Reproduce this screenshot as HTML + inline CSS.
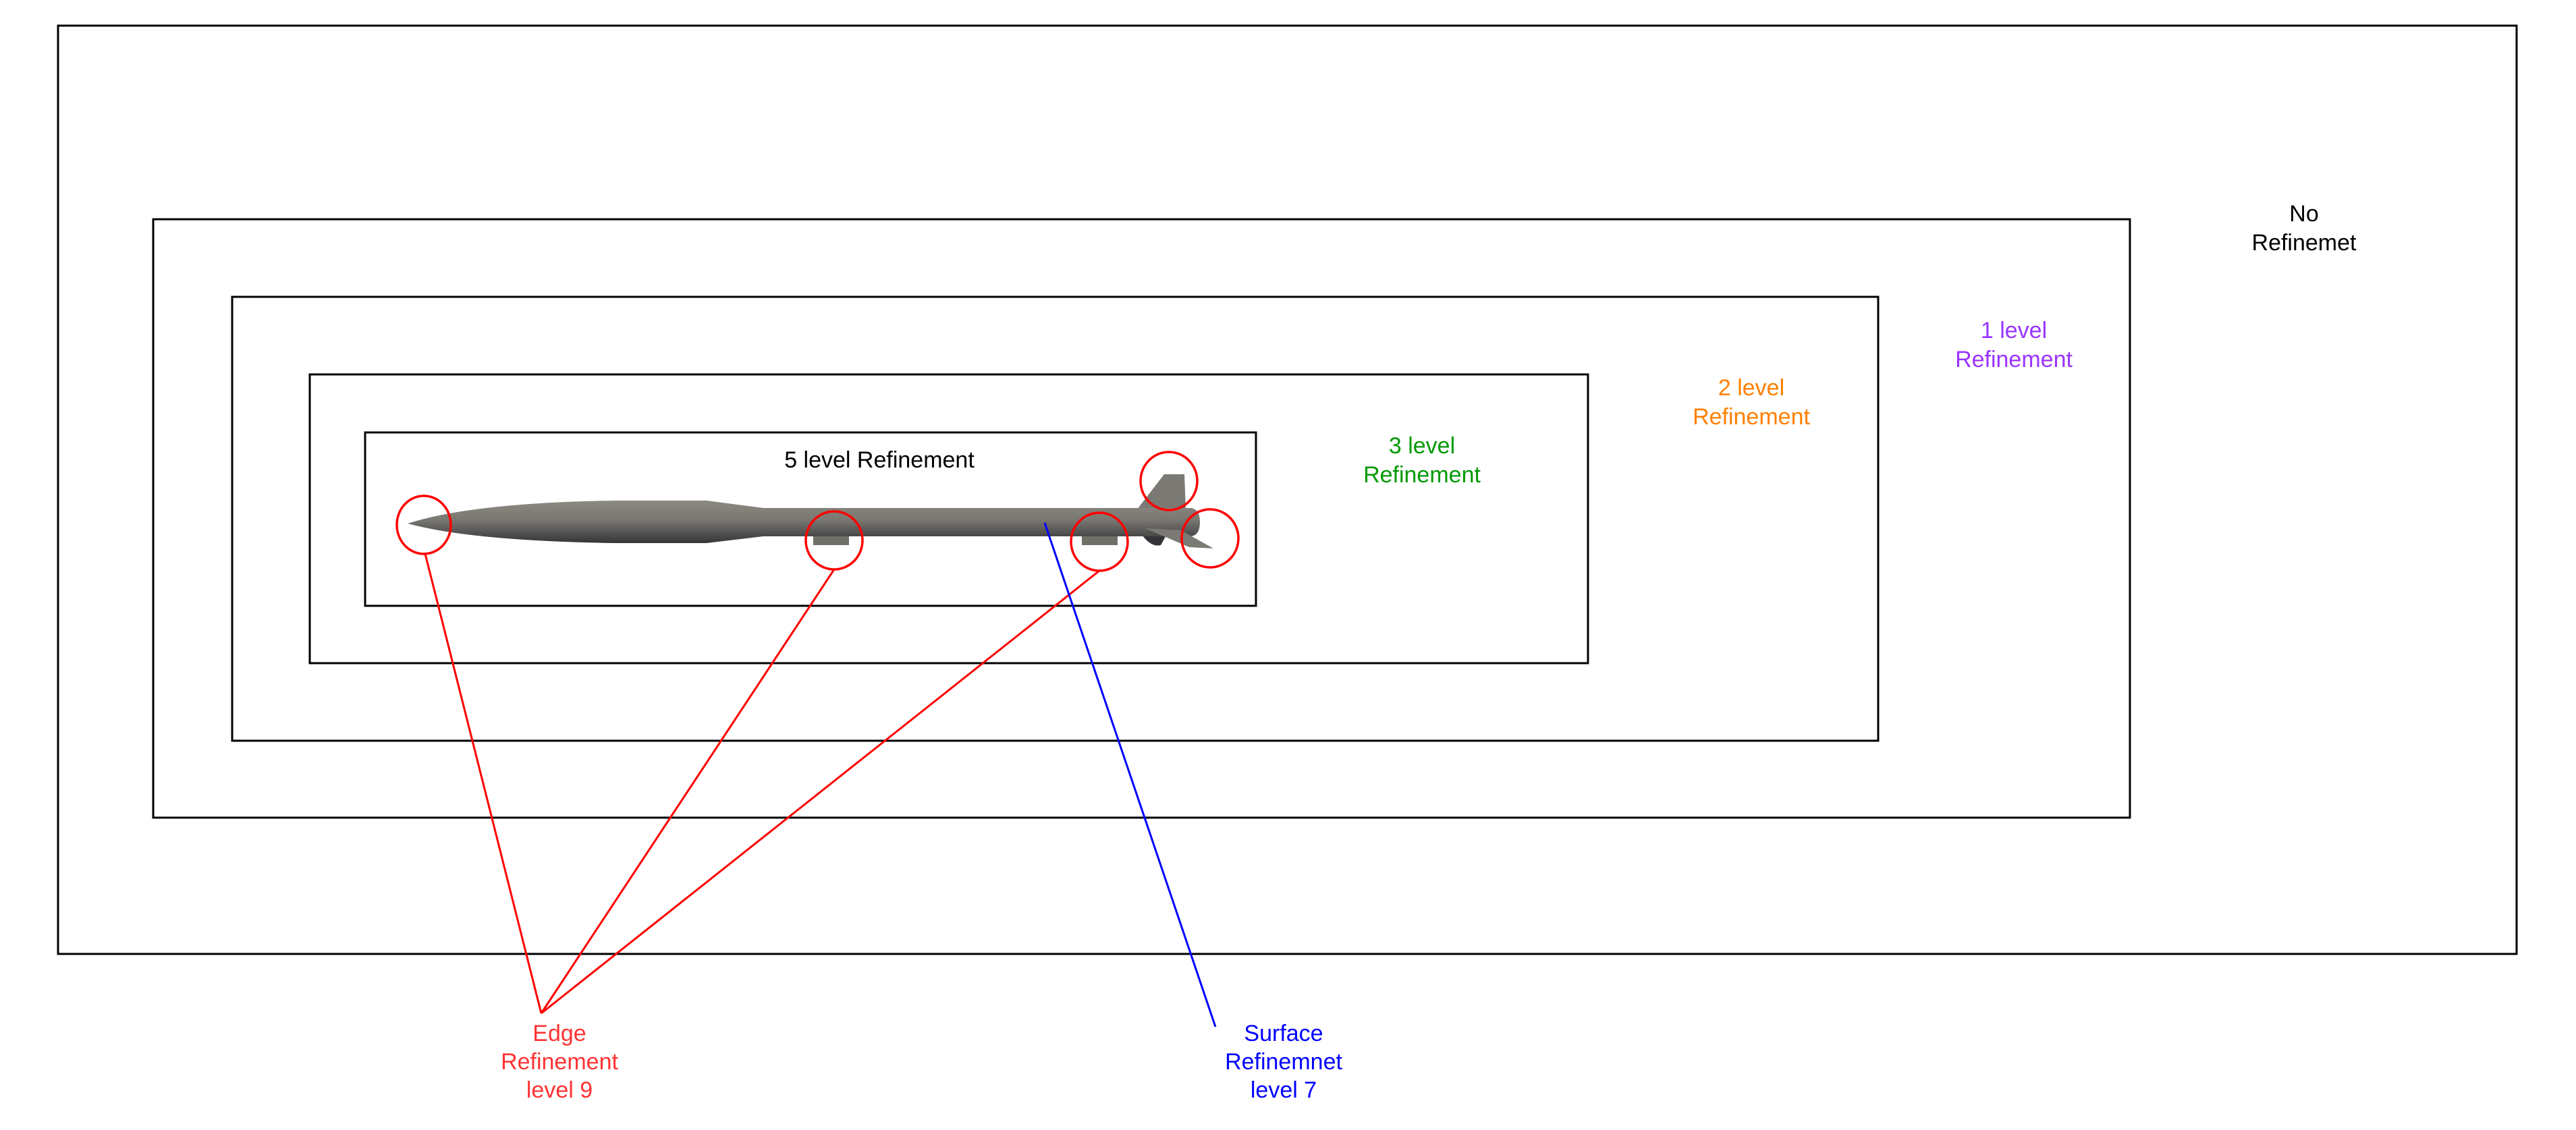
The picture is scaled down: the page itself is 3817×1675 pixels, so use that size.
<!DOCTYPE html>
<html><head><meta charset="utf-8"><style>
html,body{margin:0;padding:0;background:#fff;}
svg{display:block;}
text{font-family:"Liberation Sans",Arial,sans-serif;font-size:34px;text-anchor:middle;}
</style></head><body>
<svg width="3817" height="1675" viewBox="0 0 3817 1675" xmlns="http://www.w3.org/2000/svg">
<defs>
<linearGradient id="g" x1="0" y1="0" x2="0" y2="1">
<stop offset="0" stop-color="#8c8980"/>
<stop offset="0.45" stop-color="#7a7872"/>
<stop offset="1" stop-color="#343538"/>
</linearGradient>
<linearGradient id="g2" x1="0" y1="0" x2="0" y2="1">
<stop offset="0" stop-color="#8a877f"/>
<stop offset="0.5" stop-color="#74726c"/>
<stop offset="1" stop-color="#37383b"/>
</linearGradient>
</defs>
<g fill="none" stroke="#000" stroke-width="3">
<rect x="86" y="38" width="3643" height="1376"/>
<rect x="227" y="325" width="2929" height="887"/>
<rect x="344" y="440" width="2439" height="658"/>
<rect x="459" y="555" width="1894" height="428"/>
<rect x="541" y="641" width="1320" height="257"/>
</g>
<text x="3414" y="328" fill="#000">No</text>
<text x="3414" y="371" fill="#000">Refinemet</text>
<text x="2984" y="501" fill="#9933ff">1 level</text>
<text x="2984" y="544" fill="#9933ff">Refinement</text>
<text x="2595" y="586" fill="#ff8000">2 level</text>
<text x="2595" y="629" fill="#ff8000">Refinement</text>
<text x="2107" y="672" fill="#009900">3 level</text>
<text x="2107" y="715" fill="#009900">Refinement</text>
<text x="1303" y="693" fill="#000">5 level Refinement</text>
<!-- rocket -->
<path d="M1725 703 L1755 703 L1757 755 L1685 755 Z" fill="#7b7973"/>
<path d="M1690 790 Q1705 812 1720 808 L1730 790 Z" fill="#333437"/>
<rect x="1205" y="792" width="53" height="16" fill="#707068"/>
<rect x="1603" y="792" width="53" height="16" fill="#707068"/>
<path d="M604 776 Q700 745 913 742 L1047 742 L1131 753 L1765 753 Q1778 755 1778 774 Q1778 793 1765 795 L1131 795 L1047 805 L913 805 Q700 802 604 776 Z" fill="url(#g)"/>
<path d="M1697 783 L1750 786 L1798 813 L1762 811 Z" fill="#7c7a74"/>
<!-- circles -->
<g fill="none" stroke="#ff0000" stroke-width="3.5">
<ellipse cx="628" cy="778" rx="40" ry="43"/>
<ellipse cx="1236" cy="801" rx="42" ry="43"/>
<ellipse cx="1732" cy="713" rx="42" ry="43"/>
<ellipse cx="1629" cy="803" rx="42" ry="43"/>
<ellipse cx="1793" cy="798" rx="42" ry="43"/>
</g>
<g stroke="#ff0000" stroke-width="3" fill="none">
<line x1="630" y1="821" x2="802" y2="1502"/>
<line x1="1236" y1="844" x2="802" y2="1502"/>
<line x1="1629" y1="846" x2="802" y2="1502"/>
</g>
<line x1="1548" y1="775" x2="1801" y2="1522" stroke="#0000ff" stroke-width="3"/>
<text x="829" y="1543" fill="#ff3333">Edge</text>
<text x="829" y="1585" fill="#ff3333">Refinement</text>
<text x="829" y="1627" fill="#ff3333">level 9</text>
<text x="1902" y="1543" fill="#0000ff">Surface</text>
<text x="1902" y="1585" fill="#0000ff">Refinemnet</text>
<text x="1902" y="1627" fill="#0000ff">level 7</text>
</svg>
</body></html>
